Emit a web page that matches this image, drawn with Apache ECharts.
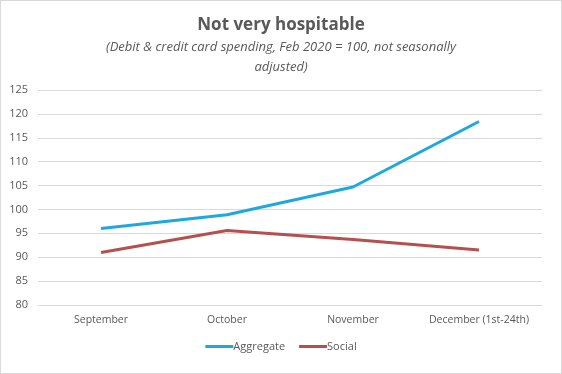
<!DOCTYPE html>
<html><head><meta charset="utf-8">
<script src="https://cdn.jsdelivr.net/npm/echarts@6/dist/echarts.min.js"></script>
<style>html,body{margin:0;padding:0;background:#fff}#c{width:562px;height:374px;box-sizing:border-box;border:1px solid #d9d9d9}</style>
</head><body><div id="c"></div>
<script>
const categories = ['September','October','November','December (1st-24th)'];
const aggregate = [96.0, 98.9, 104.7, 118.4];
const social = [91.0, 95.6, 93.7, 91.5];
const yTicks = {min: 80, max: 125, interval: 5};
const chart = echarts.init(document.getElementById('c'));
const font = 'Open Sans';
chart.setOption({
  animation: false,
  title: {
    text: 'Not very hospitable',
    subtext: '(Debit & credit card spending, Feb 2020 = 100, not seasonally\nadjusted)',
    left: 'center', top: 11, itemGap: 3,
    textStyle: {fontFamily: font, fontSize: 17, fontWeight: 'bold', color: '#595959'},
    subtextStyle: {fontFamily: font, fontSize: 13, fontStyle: 'italic', color: '#595959', lineHeight: 20}
  },
  legend: {
    bottom: 16, left: 'center', itemWidth: 28, itemHeight: 3, itemGap: 14,
    icon: 'rect',
    textStyle: {fontFamily: font, fontSize: 11, color: '#595959', padding: [0,0,0,-5]},
    data: ['Aggregate','Social']
  },
  grid: {left: 37, right: 19, top: 89, bottom: 68},
  xAxis: {
    type: 'category', data: categories, boundaryGap: true,
    axisLine: {lineStyle: {color: '#d9d9d9'}}, axisTick: {show: false},
    axisLabel: {fontFamily: font, fontSize: 10.5, color: '#595959', margin: 10, interval: 0}
  },
  yAxis: {
    type: 'value', min: yTicks.min, max: yTicks.max, interval: yTicks.interval,
    axisLine: {show: false}, axisTick: {show: false},
    splitLine: {lineStyle: {color: '#d9d9d9'}},
    axisLabel: {fontFamily: font, fontSize: 11, color: '#595959', margin: 10}
  },
  series: [
    {name: 'Aggregate', type: 'line', data: aggregate, symbol: 'none', lineStyle: {width: 3, color: '#1fa8df'}, itemStyle: {color: '#1fa8df'}},
    {name: 'Social', type: 'line', data: social, symbol: 'none', lineStyle: {width: 3, color: '#b5504f'}, itemStyle: {color: '#b5504f'}}
  ]
});
</script></body></html>
